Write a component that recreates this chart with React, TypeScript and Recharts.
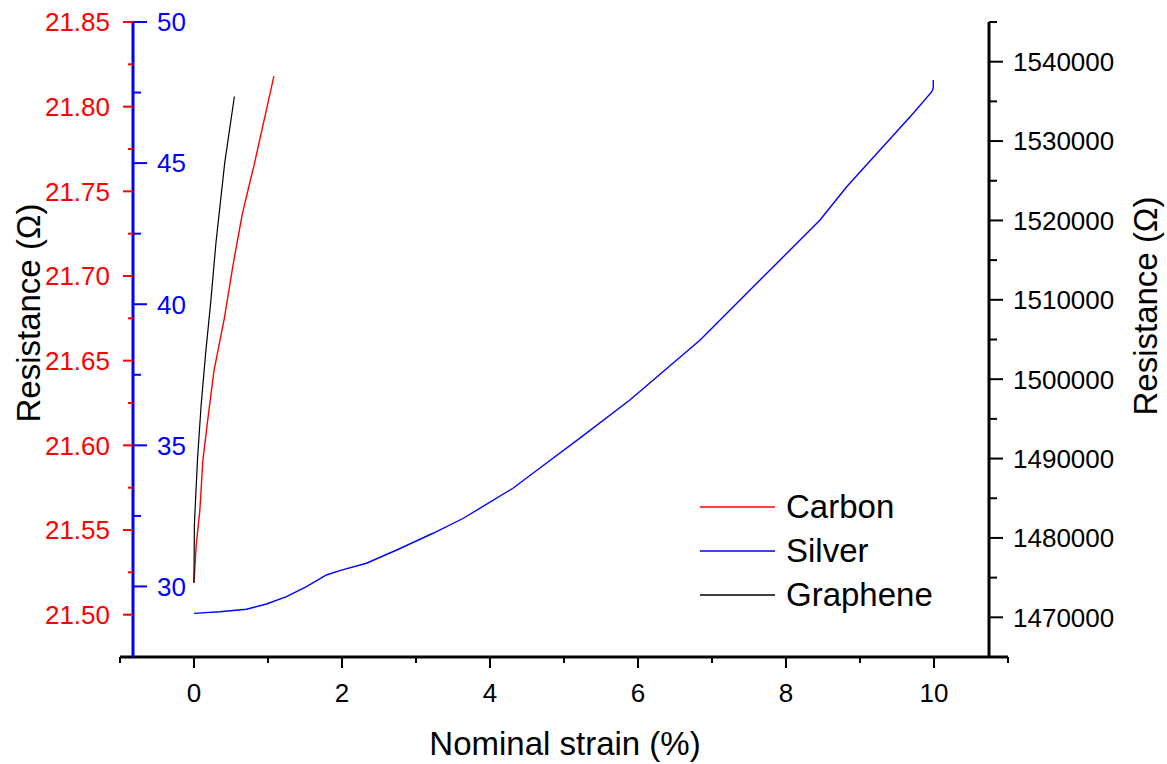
import { LineChart, Line, XAxis, YAxis, Legend, ReferenceLine } from "recharts";

const FONT = "'Liberation Sans', Arial, sans-serif";

// Carbon (left red axis)
const carbonStrain = [0, 0.03, 0.08, 0.12, 0.18, 0.27, 0.41, 0.53, 0.65, 0.77, 0.81, 1.08];
const carbonRes = [21.519, 21.541, 21.562, 21.591, 21.613, 21.644, 21.675, 21.707, 21.736, 21.758, 21.765, 21.818];

// Silver (right black axis)
const silverStrain = [
  0, 0.35, 0.71, 0.98, 1.25, 1.52, 1.79, 1.97, 2.33, 2.74, 3.23, 3.64, 4.31, 4.76, 5.21, 5.89, 6.84, 7.47,
  7.92, 8.46, 8.82, 9.27, 9.72, 9.97, 9.99, 9.99,
];
const silverRes = [
  1470500, 1470710, 1471010, 1471680, 1472600, 1473860, 1475330, 1475880, 1476810, 1478480, 1480590,
  1482480, 1486260, 1489410, 1492550, 1497380, 1504940, 1510820, 1515020, 1520060, 1524250, 1528880,
  1533500, 1536220, 1536700, 1537700,
];

// Graphene (left blue axis)
const grapheneStrain = [0, 0.005, 0.026, 0.049, 0.096, 0.157, 0.227, 0.297, 0.415, 0.546];
const grapheneRes = [30.12, 32.16, 33.33, 34.56, 36.4, 38.25, 40.09, 42.18, 45.0, 47.36];

const seriesOrder = ["Carbon", "Silver", "Graphene"];

const xTicks = [-1, 0, 1, 2, 3, 4, 5, 6, 7, 8, 9, 10, 11];
const redTicks = [21.5, 21.525, 21.55, 21.575, 21.6, 21.625, 21.65, 21.675, 21.7, 21.725, 21.75, 21.775, 21.8, 21.825, 21.85];
const blueTicks = [30, 32.5, 35, 37.5, 40, 42.5, 45, 47.5, 50];
const rightTicks = [
  1465000, 1470000, 1475000, 1480000, 1485000, 1490000, 1495000, 1500000, 1505000, 1510000, 1515000,
  1520000, 1525000, 1530000, 1535000, 1540000, 1545000,
];

const carbon = carbonStrain.map((x, i) => ({ x, y: carbonRes[i] }));
const silver = silverStrain.map((x, i) => ({ x, y: silverRes[i] }));
const graphene = grapheneStrain.map((x, i) => ({ x, y: grapheneRes[i] }));

function XTick({ x, y, payload }: any) {
  const v = payload.value;
  const major = v % 2 === 0;
  return (
    <g>
      <line x1={x} x2={x} y1={y} y2={y + (major ? 11 : 6)} stroke="#000" strokeWidth={2} />
      {major && v >= 0 && v <= 10 && (
        <text x={x} y={y + 45} textAnchor="middle" fontSize={26} fontFamily={FONT} fill="#000">
          {v}
        </text>
      )}
    </g>
  );
}

function RedTick({ x, y, payload }: any) {
  const v = payload.value;
  const major = Math.round(v * 1000) % 50 === 0;
  return (
    <g>
      <line x1={x + 1} x2={x + 1 - (major ? 10 : 5)} y1={y} y2={y} stroke="#ff0000" strokeWidth={2} />
      {major && (
        <text x={x - 22} y={y} dy="0.36em" textAnchor="end" fontSize={26} fontFamily={FONT} fill="#ff0000">
          {v.toFixed(2)}
        </text>
      )}
    </g>
  );
}

function BlueTick({ x, y, payload }: any) {
  const v = payload.value;
  const major = v % 5 === 0;
  return (
    <g>
      <line x1={x} x2={x + (major ? 14 : 8)} y1={y} y2={y} stroke="#0000ff" strokeWidth={2} />
      {major && (
        <text x={x + 24} y={y} dy="0.36em" textAnchor="start" fontSize={26} fontFamily={FONT} fill="#0000ff">
          {v}
        </text>
      )}
    </g>
  );
}

function RightTick({ x, y, payload }: any) {
  const v = payload.value;
  const major = v % 10000 === 0;
  return (
    <g>
      <line x1={x} x2={x + (major ? 14 : 8)} y1={y} y2={y} stroke="#000" strokeWidth={2} />
      {major && (
        <text x={x + 24} y={y} dy="0.36em" textAnchor="start" fontSize={26} fontFamily={FONT} fill="#000">
          {v}
        </text>
      )}
    </g>
  );
}

function LegendBox({ payload }: any) {
  const items = [...(payload || [])].sort(
    (a: any, b: any) => seriesOrder.indexOf(a.value) - seriesOrder.indexOf(b.value)
  );
  return (
    <div style={{ fontFamily: FONT, fontSize: 33, color: "#000" }}>
      {items.map((p: any) => (
        <div key={p.value} style={{ display: "flex", alignItems: "center", height: 44, lineHeight: "44px" }}>
          <svg width={75} height={4} style={{ display: "block" }}>
            <line x1={0} x2={75} y1={2} y2={2} stroke={p.color} strokeWidth={1.5} />
          </svg>
          <span style={{ marginLeft: 11 }}>{p.value}</span>
        </div>
      ))}
    </div>
  );
}

export default function App() {
  return (
    <div style={{ position: "absolute", left: 0, top: 0, width: 1167, height: 764, background: "#fff", fontFamily: FONT }}>
      <LineChart width={1167} height={764} margin={{ top: 22, right: 0, bottom: 0, left: 0 }}>
        <XAxis
          type="number"
          dataKey="x"
          domain={[-0.824, 10.743]}
          allowDataOverflow
          ticks={xTicks}
          interval={0}
          tickSize={0}
          tickMargin={0}
          axisLine={false}
          tickLine={false}
          tick={<XTick />}
          height={107}
          label={() => (
            <text x={565} y={755} textAnchor="middle" fontSize={33} fontFamily={FONT} fill="#000">
              Nominal strain (%)
            </text>
          )}
        />
        <YAxis
          yAxisId="red"
          orientation="left"
          width={132}
          type="number"
          domain={[21.475, 21.85]}
          allowDataOverflow
          ticks={redTicks}
          interval={0}
          tickSize={0}
          tickMargin={0}
          tickLine={false}
          axisLine={false}
          tick={<RedTick />}
          label={() => (
            <text
              x={40}
              y={313}
              transform="rotate(-90, 40, 313)"
              textAnchor="middle"
              fontSize={33}
              fontFamily={FONT}
              fill="#000"
            >
              Resistance (Ω)
            </text>
          )}
        />
        <YAxis
          yAxisId="blue"
          orientation="left"
          width={1}
          type="number"
          domain={[27.5, 50]}
          allowDataOverflow
          ticks={blueTicks}
          interval={0}
          tickSize={0}
          tickMargin={0}
          tickLine={false}
          axisLine={{ stroke: "#0000ff", strokeWidth: 3 }}
          tick={<BlueTick />}
        />
        <YAxis
          yAxisId="right"
          orientation="right"
          width={178}
          type="number"
          domain={[1465000, 1545000]}
          allowDataOverflow
          ticks={rightTicks}
          interval={0}
          tickSize={0}
          tickMargin={0}
          tickLine={false}
          axisLine={{ stroke: "#000", strokeWidth: 3 }}
          tick={<RightTick />}
          label={() => (
            <text
              x={1157}
              y={306}
              transform="rotate(-90, 1157, 306)"
              textAnchor="middle"
              fontSize={33}
              fontFamily={FONT}
              fill="#000"
            >
              Resistance (Ω)
            </text>
          )}
        />
        <ReferenceLine
          yAxisId="right"
          segment={[
            { x: -1, y: 1465000 },
            { x: 11, y: 1465000 },
          ]}
          ifOverflow="visible"
          stroke="#000"
          strokeWidth={3}
        />
        <Line
          name="Carbon"
          data={carbon}
          dataKey="y"
          yAxisId="red"
          type="linear"
          stroke="#ff0000"
          strokeWidth={1.4}
          dot={false}
          isAnimationActive={false}
        />
        <Line
          name="Silver"
          data={silver}
          dataKey="y"
          yAxisId="right"
          type="linear"
          stroke="#0000ff"
          strokeWidth={1.4}
          dot={false}
          isAnimationActive={false}
        />
        <Line
          name="Graphene"
          data={graphene}
          dataKey="y"
          yAxisId="blue"
          type="linear"
          stroke="#000"
          strokeWidth={1.2}
          dot={false}
          isAnimationActive={false}
        />
        <Legend
          layout="vertical"
          align="center"
          verticalAlign="middle"
          itemSorter={null as any}
          wrapperStyle={{ position: "absolute", left: 700, top: 485, width: 260 }}
          content={<LegendBox />}
        />
      </LineChart>
    </div>
  );
}
